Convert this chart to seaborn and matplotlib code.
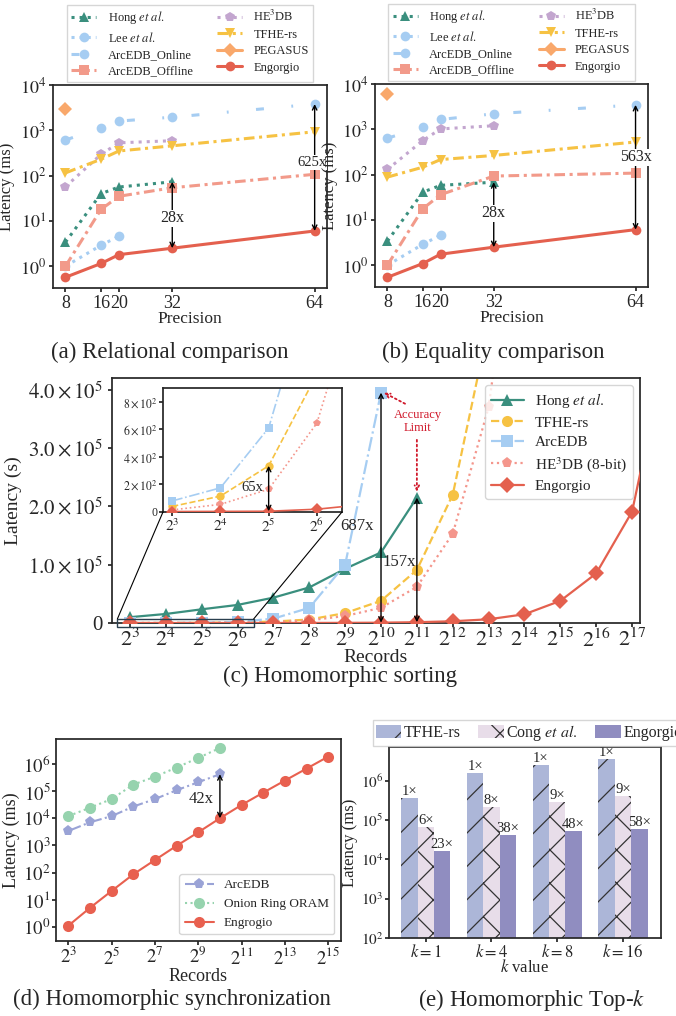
import numpy as np
import pandas as pd
import matplotlib
matplotlib.use('Agg')
import matplotlib.pyplot as plt
import seaborn as sns
from matplotlib.patches import Rectangle, Patch, ConnectionPatch
from matplotlib.ticker import FuncFormatter, NullLocator, FixedLocator

# ---- (a) relational / (b) equality comparison, latency in ms ----
precisao = [8, 16, 20, 32, 64]
precisao_curta = [8, 16, 20, 32]
precisao_lee = [8, 16, 20]

rel_hong = [3.4, 40, 56, 73]
rel_lee = [1.0, 2.9, 4.6]
rel_online = [610, 1140, 1600, 1950, 3800]
rel_offline = [1.0, 18, 35, 54, 107]
rel_he3db = [57, 295, 530, 590]
rel_tfhe = [115, 230, 350, 455, 930]
rel_pegasus = [3020]
rel_engorgio = [0.57, 1.15, 1.8, 2.5, 6.0]

eq_hong = [3.4, 41, 58, 68]
eq_lee = [1.0, 2.9, 4.6]
eq_online = [635, 1120, 1650, 2200, 3460]
eq_offline = [1.0, 17.7, 36, 93, 108]
eq_he3db = [130, 565, 1020, 1200]
eq_tfhe = [88, 146, 215, 265, 525]
eq_pegasus = [6000]
eq_engorgio = [0.54, 1.09, 1.75, 2.5, 6.1]

# ---- (c) homomorphic sorting, latency in s (records = 2^exp) ----
sort_hong = [10000, 15500, 23500, 31000, 43500, 61000, 93000, 121000, 215000]
sort_tfhe = [40, 115, 335, 1000, 2500, 6000, 17000, 38000, 91000, 220000, 510000]
sort_arcedb = [80, 175, 610, 1800, 7500, 26000, 100000, 395000]
sort_he3db = [15, 55, 165, 645, 1800, 4500, 12000, 26000, 62000, 153000, 370000, 820000]
sort_engorgio = [3, 4, 5.2, 20, 55, 120, 260, 575, 1370, 3000, 6400, 15000, 38000,
                 85000, 191000, 480000]

# ---- (d) homomorphic synchronization, latency in ms ----
sync_arcedb = [3400, 7100, 12000, 27000, 51000, 108000, 213000, 420000]
sync_oram = [12000, 24500, 51000, 174000, 340000, 740000, 1670000, 3900000]
sync_engorgio = [1.1, 5.0, 21, 86, 290, 970, 3050, 10000, 31000, 88000, 245000,
                 675000, 1870000]

# ---- (e) homomorphic top-k, latency in ms ----
topk_k = ['$k=1$', '$k=4$', '$k=8$', '$k=16$']
topk_tfhe = [3.7e5, 1.6e6, 2.5e6, 3.55e6]
topk_cong = [6.5e4, 2.15e5, 2.8e5, 4.1e5]
topk_engorgio = [1.6e4, 4.2e4, 5.3e4, 5.9e4]
topk_rot_tfhe = ['1×', '1×', '1×', '1×']
topk_rot_cong = ['6×', '8×', '9×', '9×']
topk_rot_eng = ['23×', '38×', '48×', '58×']

# colours
C_HONG = '#3a8f7e'
C_LEE = '#a6cdf2'
C_OFF = '#f29a8a'
C_HE3 = '#c3a6cf'
C_TFHE = '#f6c243'
C_PEG = '#f9a86b'
C_ENG = '#e4604e'
C_HE3_8 = '#f4968c'
C_RED = '#d0182a'

sns.set_theme(style='ticks')
plt.rcParams['font.family'] = ['Liberation Serif', 'DejaVu Serif']
plt.rcParams['mathtext.fontset'] = 'stix'
plt.rcParams['hatch.color'] = '#333333'
plt.rcParams['hatch.linewidth'] = 0.9
plt.rcParams['axes.edgecolor'] = '.15'


def linha(ax, x, y, cor, marcador, estilo, rotulo=None, lw=2.2, ms=7, z=2):
    sns.lineplot(x=x, y=y, ax=ax, color=cor, marker=marcador, linestyle=estilo,
                 linewidth=lw, markersize=ms, markeredgewidth=0, label=rotulo,
                 legend=False, zorder=z)


def seta(ax, x, y0, y1, lw=1.0, cor='black'):
    ax.annotate('', xy=(x, y0), xytext=(x, y1),
                arrowprops=dict(arrowstyle='<->', color=cor, lw=lw,
                                shrinkA=0, shrinkB=0, mutation_scale=8), zorder=5)


def log_fmt(base):
    def f(v, p):
        return f'$10^{{{int(round(np.log10(v)))}}}$' if base == 10 else \
            f'$2^{{{int(round(np.log2(v)))}}}$'
    return FuncFormatter(f)


ONLINE_LS = (0, (2.6, 9, 0.6, 9))
DASHDOT = (0, (3.5, 1.5, 1, 1.5))


def comparacao(ax, hong, lee, online, offline, he3db, tfhe, pegasus, eng, xlab):
    ax.set_yscale('log')
    linha(ax, precisao_curta, hong, C_HONG, '^', ':', r'Hong $\it{et\ al.}$')
    linha(ax, precisao_lee, lee, C_LEE, 'o', ':', r'Lee $\it{et\ al.}$')
    linha(ax, precisao, online, C_LEE, 'o', ONLINE_LS, 'ArcEDB_Online')
    linha(ax, precisao, offline, C_OFF, 's', DASHDOT, 'ArcEDB_Offline')
    linha(ax, precisao_curta, he3db, C_HE3, 'p', ':', r'HE$^3$DB')
    linha(ax, precisao, tfhe, C_TFHE, 'v', DASHDOT, 'TFHE-rs')
    linha(ax, [8], pegasus, C_PEG, 'D', '-', 'PEGASUS')
    linha(ax, precisao, eng, C_ENG, 'o', '-', 'Engorgio', z=3)
    ax.set_ylim(0.33, 1e4)
    ax.set_xlim(5.2, 66.8)
    ax.set_xticks(precisao)
    ax.yaxis.set_major_locator(FixedLocator([1, 10, 100, 1e3, 1e4]))
    ax.yaxis.set_major_formatter(log_fmt(10))
    ax.yaxis.set_minor_locator(NullLocator())
    ax.tick_params(labelsize=13, length=3, pad=2)
    ax.set_xlabel('Precision', fontsize=12.5, labelpad=-1)
    ax.set_ylabel('Latency (ms)', fontsize=12)
    ax.yaxis.set_label_coords(xlab, 0.5)
    ax.legend(loc='lower center', bbox_to_anchor=(0.5, 1.015), ncol=2,
              fontsize=9, borderaxespad=0, handlelength=2.0, labelspacing=0.35,
              columnspacing=1.9, handletextpad=0.9, borderpad=0.35,
              frameon=True, edgecolor='#cccccc', fancybox=False)


def rotulo_caixa(ax, x, y, txt, fs=11.5):
    ax.text(x, y, txt, ha='center', va='center', fontsize=fs, zorder=6,
            bbox=dict(facecolor='white', edgecolor='none', pad=0.5))


fig = plt.figure(figsize=(6.76, 10.16), dpi=100)

# (a)
ax_a = fig.add_axes([0.0784, 0.7165, 0.4055, 0.1998])
comparacao(ax_a, rel_hong, rel_lee, rel_online, rel_offline, rel_he3db, rel_tfhe,
           rel_pegasus, rel_engorgio, -0.14)
seta(ax_a, 32, rel_engorgio[3], rel_hong[3])
rotulo_caixa(ax_a, 32, 11.5, '28x')
seta(ax_a, 64, rel_engorgio[4], rel_online[4])
rotulo_caixa(ax_a, 63.3, 195, '625x', fs=10.5)

# (b)
ax_b = fig.add_axes([0.5547, 0.7175, 0.4038, 0.1998])
comparacao(ax_b, eq_hong, eq_lee, eq_online, eq_offline, eq_he3db, eq_tfhe,
           eq_pegasus, eq_engorgio, -0.135)
seta(ax_b, 32, eq_engorgio[3], eq_hong[3])
rotulo_caixa(ax_b, 32, 14, '28x')
seta(ax_b, 64, eq_engorgio[4], eq_online[4])
rotulo_caixa(ax_b, 64, 243, '563x')

# (c)
ax_c = fig.add_axes([0.1657, 0.3868, 0.781, 0.2411])
ax_c.set_xscale('log', base=2)


def serie_sort(ax, vals, cor, marcador, estilo, rotulo, ms=7, z=2):
    x = [2 ** (3 + i) for i in range(len(vals))]
    linha(ax, x, vals, cor, marcador, estilo, rotulo, lw=1.6, ms=ms, z=z)


serie_sort(ax_c, sort_hong, C_HONG, '^', '-', r'Hong $\it{et\ al.}$', ms=8)
serie_sort(ax_c, sort_tfhe, C_TFHE, 'o', '--', 'TFHE-rs', ms=8)
serie_sort(ax_c, sort_arcedb, C_LEE, 's', '-.', 'ArcEDB', ms=8)
serie_sort(ax_c, sort_he3db, C_HE3_8, 'p', ':', r'HE$^3$DB (8-bit)', ms=8)
serie_sort(ax_c, sort_engorgio, C_ENG, 'D', '-', 'Engorgio', ms=8, z=3)

ax_c.set_xlim(2 ** 2.5, 2 ** 17.22)
ax_c.set_ylim(0, 4.2e5)
ax_c.set_xticks([2 ** i for i in range(3, 18)])
ax_c.xaxis.set_major_formatter(log_fmt(2))
ax_c.xaxis.set_minor_locator(NullLocator())
ax_c.set_yticks([0, 1e5, 2e5, 3e5, 4e5])
ax_c.yaxis.set_major_formatter(FuncFormatter(
    lambda v, p: '0' if v == 0 else f'${v / 1e5:.1f}\\times10^{{5}}$'))
ax_c.tick_params(axis='x', labelsize=16, length=3, pad=1)
ax_c.tick_params(axis='y', labelsize=15, length=3)
ax_c.set_xlabel('Records', fontsize=14, labelpad=-2)
ax_c.set_ylabel('Latency (s)', fontsize=14, labelpad=4)
ax_c.legend(loc='upper right', fontsize=11, handlelength=2.2, labelspacing=0.38,
            handletextpad=0.7, edgecolor='#cccccc', borderaxespad=0.45)

seta(ax_c, 2 ** 10, sort_engorgio[7], sort_arcedb[7])
ax_c.text(2 ** 9.8, 1.67e5, '687x', ha='right', va='center', fontsize=12)
seta(ax_c, 2 ** 11, sort_engorgio[8], sort_hong[8])
ax_c.text(2 ** 10.97, 1.05e5, '157x', ha='right', va='center', fontsize=12)
ax_c.text(2 ** 11.03, 3.45e5, 'Accuracy\nLimit', color=C_RED, ha='center',
          va='center', fontsize=9, linespacing=1.1)
ax_c.annotate('', xy=(2 ** 10.08, 3.95e5), xytext=(2 ** 10.67, 3.76e5),
              arrowprops=dict(arrowstyle='->', color=C_RED, ls=':', lw=1.3,
                              shrinkA=0, shrinkB=0, mutation_scale=8))
ax_c.annotate('', xy=(2 ** 11, 2.25e5), xytext=(2 ** 11, 3.14e5),
              arrowprops=dict(arrowstyle='->', color=C_RED, ls=':', lw=1.3,
                              shrinkA=0, shrinkB=0, mutation_scale=8))

# inset zoom of 2^3..2^6
ax_in = fig.add_axes([0.2411, 0.4961, 0.2648, 0.122])
ax_in.set_xscale('log', base=2)
serie_sort(ax_in, sort_hong, C_HONG, '^', '-', None, ms=6)
serie_sort(ax_in, sort_tfhe, C_TFHE, 'o', '--', None, ms=6)
serie_sort(ax_in, sort_arcedb, C_LEE, 's', '-.', None, ms=6)
serie_sort(ax_in, sort_he3db, C_HE3_8, 'p', ':', None, ms=6)
serie_sort(ax_in, sort_engorgio, C_ENG, 'D', '-', None, ms=6, z=3)
for ln in ax_in.lines:
    ln.set_linewidth(1.2)
ax_in.set_xlim(2 ** 2.81, 2 ** 6.52)
ax_in.set_ylim(0, 900)
ax_in.set_xticks([2 ** i for i in range(3, 7)])
ax_in.xaxis.set_major_formatter(log_fmt(2))
ax_in.xaxis.set_minor_locator(NullLocator())
ax_in.set_yticks([0, 200, 400, 600, 800])
ax_in.yaxis.set_major_formatter(FuncFormatter(
    lambda v, p: '0' if v == 0 else f'${int(v / 100)}\\times10^{{2}}$'))
ax_in.tick_params(axis='x', labelsize=11, length=3, pad=1)
ax_in.tick_params(axis='y', labelsize=8.5, length=3, pad=1)
seta(ax_in, 2 ** 5, sort_engorgio[2], sort_tfhe[2])
ax_in.text(2 ** 4.9, 176, '65x', ha='right', va='center', fontsize=10.5)

rx0, rx1, ry0, ry1 = 2 ** 2.65, 2 ** 6.45, -7000, 7000
ax_c.add_patch(Rectangle((rx0, ry0), rx1 - rx0, ry1 - ry0, fill=False,
                         edgecolor='#2a3f4f', lw=1.0, clip_on=False, zorder=4))
for xa, xb in [(0, rx0), (1, rx1)]:
    fig.add_artist(ConnectionPatch(xyA=(xa, 0), coordsA=ax_in.transAxes,
                                   xyB=(xb, ry1), coordsB=ax_c.transData,
                                   color='black', lw=0.8))

# (d)
ax_d = fig.add_axes([0.0828, 0.0738, 0.4216, 0.1988])
ax_d.set_xscale('log', base=2)
ax_d.set_yscale('log')
xs_d = [2 ** (3 + i) for i in range(len(sync_engorgio))]
linha(ax_d, xs_d[:8], sync_arcedb, '#9aa3d6', 'p', '-.', 'ArcEDB', lw=1.5, ms=8)
linha(ax_d, xs_d[:8], sync_oram, '#96d3ae', 'o', ':', 'Onion Ring ORAM', lw=1.5, ms=8)
linha(ax_d, xs_d, sync_engorgio, '#e8604f', 'o', '-', 'Engrogio', lw=1.5, ms=8)
seta(ax_d, 2 ** 10, sync_engorgio[7], sync_arcedb[7])
ax_d.text(2 ** 9.7, 5e4, '42x', ha='right', va='center', fontsize=12)
ax_d.set_ylim(0.3, 8.3e6)
ax_d.set_xlim(2 ** 2.43, 2 ** 15.59)
ax_d.set_xticks([2 ** i for i in range(3, 16, 2)])
ax_d.xaxis.set_major_formatter(log_fmt(2))
ax_d.xaxis.set_minor_locator(NullLocator())
ax_d.yaxis.set_major_locator(FixedLocator([10.0 ** i for i in range(7)]))
ax_d.yaxis.set_major_formatter(log_fmt(10))
ax_d.yaxis.set_minor_locator(NullLocator())
ax_d.tick_params(labelsize=13.5, length=3, pad=1)
ax_d.set_xlabel('Records', fontsize=13, labelpad=0)
ax_d.set_ylabel('Latency (ms)', fontsize=13, labelpad=2)
ax_d.legend(loc='lower right', fontsize=9.5, handlelength=2.2,
            edgecolor='#cccccc')

# (e)
ax_e = fig.add_axes([0.5754, 0.0768, 0.4024, 0.188])
ax_e.set_yscale('log')
metodos = ['TFHE-rs', 'Cong et al.', 'Engorgio']
cores_e = {'TFHE-rs': '#acb6d8', 'Cong et al.': '#e8dde9', 'Engorgio': '#908dc0'}
df_topk = pd.DataFrame({
    'k': topk_k * 3,
    'metodo': [m for m in metodos for _ in topk_k],
    'latencia': topk_tfhe + topk_cong + topk_engorgio,
})
sns.barplot(data=df_topk, x='k', y='latencia', hue='metodo', palette=cores_e,
            hue_order=metodos, width=0.75, saturation=1, ax=ax_e, legend=False)
hachuras = ['/', 'x', '']
for cont, hach, rots in zip(ax_e.containers, hachuras,
                            [topk_rot_tfhe, topk_rot_cong, topk_rot_eng]):
    for barra in cont:
        barra.set_hatch(hach)
        barra.set_edgecolor('#333333')
        barra.set_linewidth(0)
    ax_e.bar_label(cont, labels=rots, fontsize=10.5, padding=0)
ax_e.set_ylim(100, 7.2e6)
ax_e.set_xlim(-0.56, 3.58)
ax_e.yaxis.set_major_locator(FixedLocator([10.0 ** i for i in range(2, 7)]))
ax_e.yaxis.set_major_formatter(log_fmt(10))
ax_e.yaxis.set_minor_locator(NullLocator())
ax_e.tick_params(axis='y', labelsize=11, length=3, pad=1)
ax_e.tick_params(axis='x', labelsize=12, length=3, pad=1)
ax_e.set_xlabel('$k$ value', fontsize=12, labelpad=-1)
ax_e.set_ylabel('Latency (ms)', fontsize=12, labelpad=2)
alcas = [Patch(facecolor=cores_e[m], hatch=h, edgecolor='#333333', lw=0)
         for m, h in zip(metodos, hachuras)]
ax_e.legend(alcas, ['TFHE-rs', r'Cong $\it{et\ al.}$', 'Engorgio'], ncol=3,
            loc='lower left', bbox_to_anchor=(-0.06, 1.005), borderaxespad=0,
            fontsize=11.5, handlelength=1.6, handleheight=0.9, handletextpad=0.15,
            columnspacing=1.1, edgecolor='#cccccc', fancybox=False,
            borderpad=0.2)

# captions
fig.text(0.251, 0.653, '(a) Relational comparison', ha='center', va='center',
         fontsize=16.5)
fig.text(0.729, 0.653, '(b) Equality comparison', ha='center', va='center',
         fontsize=16.5)
fig.text(0.503, 0.334, '(c) Homomorphic sorting', ha='center', va='center',
         fontsize=16.5)
fig.text(0.254, 0.016, '(d) Homomorphic synchronization', ha='center',
         va='center', fontsize=16.5)
fig.text(0.786, 0.016, r'(e) Homomorphic Top-$\it{k}$', ha='center',
         va='center', fontsize=16.5)

fig.savefig('out.png', dpi=100)
